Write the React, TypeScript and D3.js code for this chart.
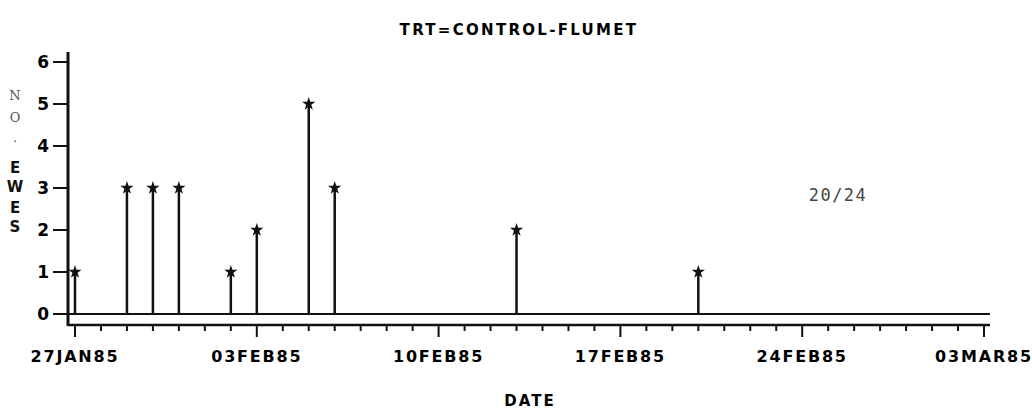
import React, { useRef, useEffect } from "react";
import * as d3 from "d3";

const WIDTH = 1032;
const HEIGHT = 410;

// days with ewes recorded and the count on each
const dates = [
  "1985-01-27", "1985-01-29", "1985-01-30", "1985-01-31", "1985-02-02",
  "1985-02-03", "1985-02-05", "1985-02-06", "1985-02-13", "1985-02-20",
];
const counts = [1, 3, 3, 3, 1, 2, 5, 3, 2, 1];

const yTicks = [0, 1, 2, 3, 4, 5, 6];
const majorTickDates = ["1985-01-27", "1985-02-03", "1985-02-10", "1985-02-17", "1985-02-24", "1985-03-03"];
const majorTickLabels = ["27JAN85", "03FEB85", "10FEB85", "17FEB85", "24FEB85", "03MAR85"];
const yLabelChars = ["N", "O", ".", "E", "W", "E", "S"];

const FONT = "'DejaVu Sans', sans-serif";

export default function App() {
  const svgRef = useRef<SVGSVGElement | null>(null);

  useEffect(() => {
    const svg = d3.select(svgRef.current);
    svg.selectAll("*").remove();

    const x = d3
      .scaleUtc()
      .domain([new Date("1985-01-27"), new Date("1985-03-03")])
      .range([75, 984]);
    const y = d3.scaleLinear().domain([0, 6]).range([314, 62]);

    const axisY = 325;
    const axisX = 68;

    // title
    svg
      .append("text")
      .attr("x", 519)
      .attr("y", 35)
      .attr("text-anchor", "middle")
      .attr("font-family", FONT)
      .attr("font-weight", "bold")
      .attr("font-size", 15)
      .attr("letter-spacing", 2.3)
      .text("TRT=CONTROL-FLUMET");

    // y axis
    svg
      .append("line")
      .attr("x1", axisX)
      .attr("x2", axisX)
      .attr("y1", 52)
      .attr("y2", axisY + 1)
      .attr("stroke", "#111")
      .attr("stroke-width", 3);
    const yt = svg.append("g");
    yt.selectAll("line")
      .data(yTicks)
      .enter()
      .append("line")
      .attr("x1", 53)
      .attr("x2", axisX)
      .attr("y1", (d) => y(d))
      .attr("y2", (d) => y(d))
      .attr("stroke", "#111")
      .attr("stroke-width", 2);
    yt.selectAll("text")
      .data(yTicks)
      .enter()
      .append("text")
      .attr("x", 49)
      .attr("y", (d) => y(d) + 6)
      .attr("text-anchor", "end")
      .attr("font-family", FONT)
      .attr("font-weight", "bold")
      .attr("font-size", 17)
      .text((d) => d);

    // y label, stacked letters
    const yLabelPos = [95, 117, 137, 168, 187, 208, 227];
    svg
      .append("g")
      .selectAll("text")
      .data(yLabelChars)
      .enter()
      .append("text")
      .attr("x", 15)
      .attr("y", (_, i) => yLabelPos[i] + 5)
      .attr("text-anchor", "middle")
      .attr("font-family", (_, i) => (i < 3 ? "'DejaVu Serif', serif" : FONT))
      .attr("font-weight", (_, i) => (i < 3 ? "normal" : "bold"))
      .attr("fill", (_, i) => (i < 3 ? "#555" : "#111"))
      .attr("font-size", (_, i) => (i < 3 ? 13 : 15))
      .text((d) => d);

    // x axis
    svg
      .append("line")
      .attr("x1", axisX)
      .attr("x2", 990)
      .attr("y1", axisY)
      .attr("y2", axisY)
      .attr("stroke", "#111")
      .attr("stroke-width", 2.5);
    const days = d3.utcDay.range(new Date("1985-01-27"), new Date("1985-03-04"));
    const majorSet = new Set(majorTickDates);
    svg
      .append("g")
      .selectAll("line")
      .data(days)
      .enter()
      .append("line")
      .attr("x1", (d) => x(d))
      .attr("x2", (d) => x(d))
      .attr("y1", axisY)
      .attr("y2", (d) => (majorSet.has(d.toISOString().slice(0, 10)) ? axisY + 12 : axisY + 6))
      .attr("stroke", "#111")
      .attr("stroke-width", 2);
    svg
      .append("g")
      .selectAll("text")
      .data(majorTickDates)
      .enter()
      .append("text")
      .attr("x", (d) => x(new Date(d)))
      .attr("y", 362)
      .attr("text-anchor", "middle")
      .attr("font-family", FONT)
      .attr("font-weight", "bold")
      .attr("font-size", 16)
      .attr("letter-spacing", 1.8)
      .text((_, i) => majorTickLabels[i]);

    svg
      .append("text")
      .attr("x", 530)
      .attr("y", 406)
      .attr("text-anchor", "middle")
      .attr("font-family", FONT)
      .attr("font-weight", "bold")
      .attr("font-size", 15)
      .attr("letter-spacing", 2)
      .text("DATE");

    // zero baseline
    svg
      .append("line")
      .attr("x1", axisX)
      .attr("x2", 990)
      .attr("y1", y(0))
      .attr("y2", y(0))
      .attr("stroke", "#111")
      .attr("stroke-width", 2);

    // needles
    const data = dates.map((d, i) => ({ date: new Date(d), v: counts[i] }));
    svg
      .append("g")
      .selectAll("line")
      .data(data)
      .enter()
      .append("line")
      .attr("x1", (d) => x(d.date))
      .attr("x2", (d) => x(d.date))
      .attr("y1", y(0))
      .attr("y2", (d) => y(d.v))
      .attr("stroke", "#111")
      .attr("stroke-width", 2.5);
    svg
      .append("g")
      .selectAll("path")
      .data(data)
      .enter()
      .append("path")
      .attr("transform", (d) => `translate(${x(d.date)},${y(d.v)})`)
      .attr("d", d3.symbol().type(d3.symbolStar).size(55))
      .attr("fill", "#111");

    // annotation
    svg
      .append("text")
      .attr("x", 838)
      .attr("y", 201)
      .attr("text-anchor", "middle")
      .attr("font-family", "'DejaVu Sans Mono', monospace")
      .attr("font-size", 17)
      .attr("letter-spacing", 1.5)
      .attr("fill", "#444")
      .text("20/24");
  }, []);

  return (
    <svg
      ref={svgRef}
      width={WIDTH}
      height={HEIGHT}
      style={{ position: "absolute", left: 0, top: 0, background: "#fff" }}
    />
  );
}
